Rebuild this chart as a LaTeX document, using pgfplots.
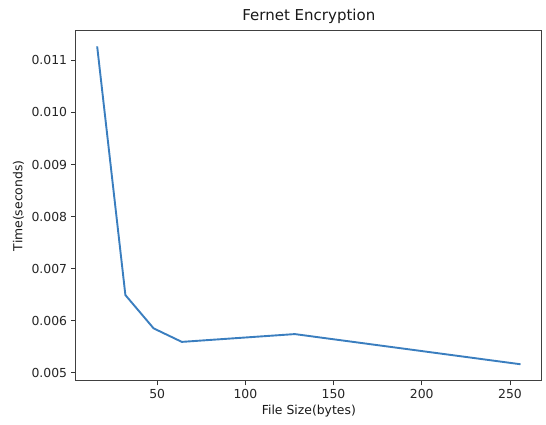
\documentclass[border=0pt]{standalone}
\usepackage{fontspec}
\setmainfont{DejaVu Sans}
\usepackage{pgfplots}
\pgfplotsset{compat=1.18}
\definecolor{mplblue}{HTML}{3A7EBF}
\begin{document}
\fontsize{12.4}{14}\selectfont
\begin{tikzpicture}
\useasboundingbox (-76pt,-44.3pt) rectangle (470pt,380.7pt);
\begin{axis}[
  at={(0pt,0pt)}, anchor=south west,
  scale only axis,
  width=465.7pt, height=349.7pt,
  xmin=4, xmax=268,
  ymin=0.004844, ymax=0.011566,
  xtick={50,100,150,200,250},
  ytick={0.005,0.006,0.007,0.008,0.009,0.010,0.011},
  yticklabels={0.005,0.006,0.007,0.008,0.009,0.010,0.011},
  scaled y ticks=false,
  /pgf/number format/assume math mode=true,
  tick align=outside,
  major tick length=4.6pt,
  tick style={black!80, line width=0.9pt},
  xtick pos=bottom, ytick pos=left,
  axis line style={black!75, line width=1pt},
  ticklabel style={font=\fontsize{12.4}{14}\selectfont, text=black!85},
  title={Fernet Encryption},
  title style={font=\fontsize{15}{17}\selectfont, yshift=-3pt, text=black!90},
  xlabel={File Size(bytes)},
  ylabel={Time(seconds)},
  label style={font=\fontsize{12.4}{14}\selectfont, text=black!90},
  xlabel style={yshift=2pt},
  ylabel style={yshift=-1pt},
]
\addplot[mplblue, line width=1.9pt, line join=round] coordinates {
  (16,0.01127) (32,0.00649) (48,0.00585) (64,0.00559) (128,0.00574) (256,0.00516)
};
\end{axis}
\end{tikzpicture}
\end{document}
